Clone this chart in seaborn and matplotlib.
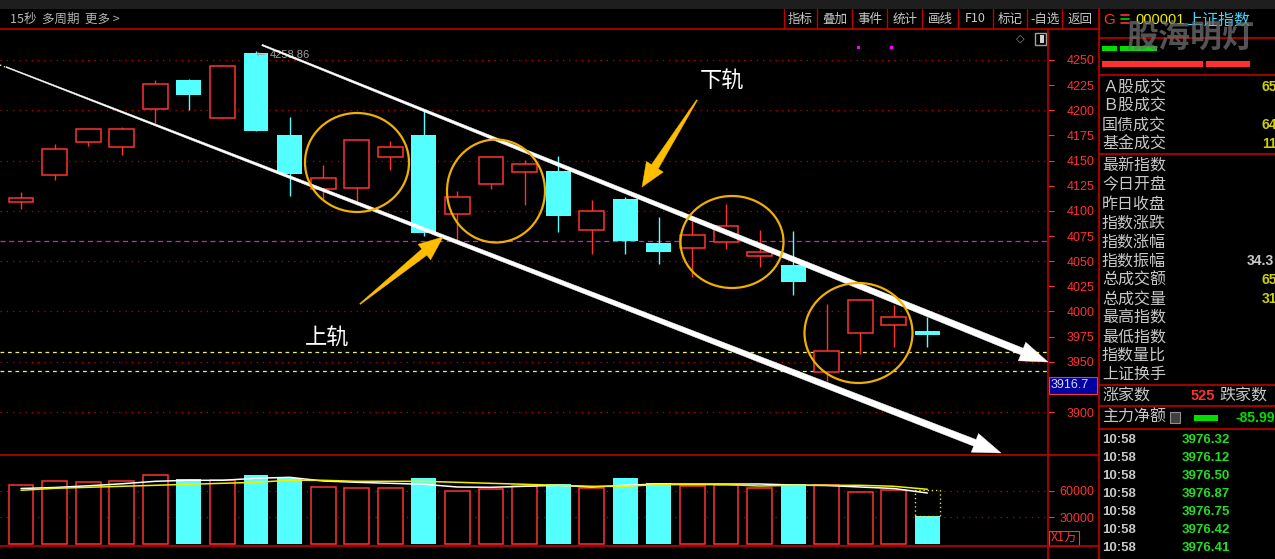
import numpy as np
import pandas as pd
import seaborn as sns
import matplotlib.pyplot as plt
from matplotlib.patches import Rectangle, Ellipse, Polygon

W, H = 1275, 559

# 15-second candles
opens = [4108.5, 4136.0, 4168.8, 4163.8, 4201.6, 4229.8, 4192.6, 4257.0, 4175.4, 4121.5,
         4123.0, 4153.3, 4175.4, 4096.6, 4127.0, 4138.3, 4139.6, 4080.7, 4111.8, 4068.4,
         4062.8, 4069.1, 4054.8, 4046.2, 3939.5, 3978.3, 3986.2, 3980.6]
highs = [4118.5, 4166.5, 4181.1, 4183.1, 4230.0, 4231.0, 4245.0, 4258.86, 4193.3, 4145.6,
         4170.2, 4169.5, 4200.3, 4119.8, 4153.3, 4150.6, 4154.6, 4110.8, 4114.1, 4093.9,
         4090.2, 4106.8, 4081.0, 4080.0, 4007.4, 4011.1, 4006.4, 3994.2]
lows = [4102.2, 4131.0, 4164.5, 4155.8, 4187.7, 4200.6, 4192.6, 4179.7, 4115.0, 4112.0,
        4109.8, 4140.6, 4075.3, 4069.4, 4121.5, 4105.8, 4079.3, 4057.4, 4057.4, 4047.5,
        4034.0, 4061.8, 4044.5, 4016.7, 3931.0, 3957.4, 3965.0, 3965.0]
closes = [4112.5, 4161.2, 4181.1, 4181.1, 4225.8, 4215.5, 4243.7, 4179.7, 4137.0, 4132.4,
          4170.2, 4163.2, 4078.3, 4113.5, 4153.3, 4146.3, 4095.2, 4099.6, 4070.3, 4059.4,
          4075.7, 4084.7, 4059.0, 4029.6, 3960.4, 4011.1, 3994.2, 3976.9]
volumes = [66430, 70940, 69470, 70940, 77710, 73200, 72070, 77710, 74660, 64170,
           63050, 63050, 74320, 59660, 61920, 65860, 67560, 63050, 74320, 68680,
           64960, 66430, 62710, 67560, 66430, 58530, 60790, 31470]
vol_forecast = 60450
ma_white = [62480, 63610, 65530, 67780, 70600, 71730, 71730, 73980, 75110, 70940,
            69470, 68340, 67220, 64170, 63830, 64960, 66090, 64170, 66090, 67560,
            67560, 67560, 67560, 66430, 65860, 64170, 62480, 57400]
ma_yellow = [60450, 62700, 63830, 64960, 66090, 67220, 68340, 69470, 71730, 71730,
             70600, 70600, 70600, 69470, 68340, 67220, 66090, 64960, 64960, 66880,
             66880, 66880, 65300, 66090, 66090, 66090, 64960, 61580]

price_ticks = [3900, 3950, 3975, 4000, 4025, 4050, 4075, 4100, 4125, 4150, 4175, 4200, 4225, 4250]
grid_prices = [3900, 3950, 4000, 4050, 4100, 4150, 4200, 4250]
prev_close = 4070.0
yellow_levels = [3959.4, 3940.5]
last_price = '3916.7'
high_label = '4258.86'
vol_ticks = [30000, 60000]

toolbar_left = '15秒  多周期  更多 >'
toolbar_buttons = ['指标', '叠加', '事件', '统计', '画线', 'F10', '标记', '-自选', '返回']
panel_labels = ['Ａ股成交', 'Ｂ股成交', '国债成交', '基金成交',
                '最新指数', '今日开盘', '昨日收盘', '指数涨跌', '指数涨幅', '指数振幅',
                '总成交额', '总成交量', '最高指数', '最低指数', '指数量比', '上证换手']
panel_values = ['65', '', '64', '11', '', '', '', '', '', '34.3', '65', '31', '', '', '', '']
tick_times = ['10:58'] * 7
tick_prices = ['3976.32', '3976.12', '3976.50', '3976.87', '3976.75', '3976.42', '3976.41']

RED = '#ff3232'
CYAN = '#54ffff'
LINE_RED = '#c00000'
ORANGE = '#ffbe00'
GRAY = '#c8c8c8'

sns.set_style('dark', {'axes.facecolor': 'black', 'figure.facecolor': 'black'})
plt.rcParams['font.family'] = ['Noto Sans CJK SC', 'DejaVu Sans']

df = pd.DataFrame({'o': opens, 'h': highs, 'l': lows, 'c': closes, 'v': volumes,
                   'ma1': ma_white, 'ma2': ma_yellow})
df['i'] = np.arange(len(df))
df['up'] = df['c'] >= df['o']
df['top'] = df[['o', 'c']].max(axis=1)
df['bot'] = df[['o', 'c']].min(axis=1)

# pixel geometry of the chart
X0, DX = 21.0, 33.57
BW = 0.74
xlim = (-X0 / DX, (1048 - X0) / DX)


def price_at(y):
    return 4250 - (y - 60) / 1.0058


def vol_at(y):
    return (543.9 - y) * 30000 / 26.6


fig = plt.figure(figsize=(W / 100, H / 100), dpi=100, facecolor='black')
ax = fig.add_axes([0, (H - 455) / H, 1048 / W, (455 - 29) / H])
ax2 = fig.add_axes([0, (H - 546) / H, 1048 / W, (546 - 455) / H])

for a in (ax, ax2):
    a.set_facecolor('black')
    for s in a.spines.values():
        s.set_visible(False)
    a.grid(False)
    a.set_xticks([])
    a.yaxis.tick_right()

# candles
up, dn = df[df['up']], df[~df['up']]
ax.vlines(dn['i'], dn['l'], dn['h'], color=CYAN, lw=1.0, zorder=3)
ax.bar(dn['i'], dn['top'] - dn['bot'], bottom=dn['bot'], width=BW, color=CYAN, lw=0, zorder=4)
ax.vlines(up['i'], up['l'], up['h'], color=RED, lw=1.0, zorder=3)
ax.bar(up['i'], up['top'] - up['bot'], bottom=up['bot'], width=BW, facecolor='black',
       edgecolor=RED, lw=1.1, zorder=4)

for p in grid_prices:
    ax.axhline(p, color=LINE_RED, lw=0.9, ls=(0, (1, 4)), zorder=1)
ax.axhline(prev_close, color='#d020d0', lw=0.9, ls=(0, (4, 3)), zorder=1)
for p in yellow_levels:
    ax.axhline(p, color='#f0f060', lw=0.9, ls=(0, (3, 3)), zorder=1)

ax.set_xlim(*xlim)
ax.set_ylim(price_at(455), price_at(29))
ax.set_yticks(price_ticks)
ax.set_yticklabels([str(t) for t in price_ticks])
ax.tick_params(axis='y', colors=RED, length=4.5, width=0.8, pad=9, labelsize=9)
for t in ax.get_yticklabels():
    t.set_fontfamily('Liberation Sans')

# volume
ax2.bar(dn['i'], dn['v'], width=BW, color=CYAN, lw=0, zorder=3)
ax2.bar(up['i'], up['v'], width=BW, facecolor='black', edgecolor=RED, lw=1.1, zorder=3)
last = df.iloc[-1]
ax2.add_patch(Rectangle((last['i'] - BW / 2, last['v']), BW, vol_forecast - last['v'],
                        fill=False, ec='#e0e040', lw=1.0, ls=(0, (1, 2)), zorder=4))
sns.lineplot(x=df['i'], y=df['ma1'], color='white', lw=1.1, ax=ax2, zorder=5, legend=False)
sns.lineplot(x=df['i'], y=df['ma2'], color='#f0f000', lw=1.1, ax=ax2, zorder=5, legend=False)
for v in vol_ticks:
    ax2.axhline(v, color=LINE_RED, lw=0.9, ls=(0, (1, 4)), zorder=1)
ax2.set_xlim(*xlim)
ax2.set_ylim(vol_at(546), vol_at(455))
ax2.set_xlabel('')
ax2.set_ylabel('')
ax2.set_yticks(vol_ticks)
ax2.set_yticklabels([str(v) for v in vol_ticks])
ax2.tick_params(axis='y', colors=RED, length=4.5, width=0.8, pad=3.6, labelsize=9)
for t in ax2.get_yticklabels():
    t.set_fontfamily('Liberation Sans')

# overlay in pixel coordinates for the frame, panel and hand-drawn marks
ov = fig.add_axes([0, 0, 1, 1], zorder=10)
ov.set_xlim(0, W)
ov.set_ylim(H, 0)
ov.axis('off')
ov.patch.set_alpha(0)

ov.add_patch(Rectangle((0, 0), W, 9, color='#1e1e1e', lw=0))
ov.plot([0, 1099], [29, 29], color=LINE_RED, lw=1.2)
ov.plot([1099, W], [38, 38], color=LINE_RED, lw=1.2)
ov.plot([0, 1099], [455, 455], color=LINE_RED, lw=1.2)
ov.plot([0, 1099], [546, 546], color=LINE_RED, lw=1.2)
ov.plot([1048, 1048], [29, H], color=LINE_RED, lw=1.2)
ov.plot([1099, 1099], [9, H], color=LINE_RED, lw=1.2)
for y in [75, 154, 385, 406, 429]:
    ov.plot([1099, W], [y, y], color=LINE_RED, lw=1.2)

# toolbar
ov.text(10, 19, toolbar_left, color='#b4b4b4', fontsize=9, va='center')
seps = [783.7, 817.3, 852.1, 887.4, 922.2, 958.2, 992.6, 1027.4, 1062.3, 1098.7]
for xs in seps:
    ov.plot([xs, xs], [9, 29], color=LINE_RED, lw=1.0)
for k, b in enumerate(toolbar_buttons):
    ov.text((seps[k] + seps[k + 1]) / 2, 19, b, color=GRAY, fontsize=9, ha='center', va='center')

# price label boxes
ov.add_patch(Rectangle((1049, 377), 48, 17, fc='#0000a0', ec=RED, lw=0.8))
ov.text(1051, 385.5, last_price, color='#d8d8ff', fontsize=9, va='center', family='Liberation Sans')
ov.add_patch(Rectangle((1049, 531), 30, 15, fc='black', ec=RED, lw=0.8))
ov.text(1051, 538.5, 'X1万', color=RED, fontsize=9, va='center')

# high marker and small icons
ov.text(256, 55, '←', color='#a0a0a0', fontsize=7, va='center')
ov.text(270, 55, high_label, color='#a0a0a0', fontsize=8, va='center', family='Liberation Sans')
for xm in [858, 891]:
    ov.add_patch(Rectangle((xm - 1.5, 45.5), 3, 3, color='#ff00ff', lw=0))
ov.text(1020, 39, '◇', color='#909090', fontsize=8, ha='center', va='center', family='DejaVu Sans')
ov.add_patch(Rectangle((1035, 33), 11, 12, fc='black', ec='#a0a0a0', lw=1.0))
ov.add_patch(Rectangle((1040, 35), 4, 8, fc='#d0d0d0', lw=0))


def taper_arrow(p0, p1, w0, w1, head_len, head_w, color):
    p0 = np.array(p0, float)
    p1 = np.array(p1, float)
    u = (p1 - p0) / np.hypot(*(p1 - p0))
    n = np.array([-u[1], u[0]])
    base = p1 - u * head_len
    pts = [p0 + n * w0 / 2, base + n * w1 / 2, base + n * head_w / 2, p1,
           base - n * head_w / 2, base - n * w1 / 2, p0 - n * w0 / 2]
    ov.add_patch(Polygon(pts, closed=True, fc=color, ec=color, lw=0.3, zorder=6))


# channel lines
taper_arrow((262, 45), (1048, 362), 1.5, 7, 28, 20, 'white')
taper_arrow((6, 67), (1001, 453), 1.0, 7, 28, 20, 'white')
ov.plot([0, 5], [65, 67], color='#f0f0a0', lw=1, ls=(0, (1, 2)))

# circles
for cx, cy, rx, ry in [(357, 162.5, 52, 49.5), (496, 191, 49, 51.5),
                       (732, 242, 51.5, 46), (858.5, 333, 54, 50)]:
    ov.add_patch(Ellipse((cx, cy), 2 * rx, 2 * ry, fill=False, ec='#f0b000', lw=1.6, zorder=7))

# callouts
taper_arrow((697, 100), (642, 187), 1.0, 8, 24, 20, ORANGE)
taper_arrow((360, 304), (443, 237), 1.0, 8, 24, 20, ORANGE)
ov.text(722, 80, '下轨', color='white', fontsize=16, ha='center', va='center', zorder=8)
ov.text(327, 337, '上轨', color='white', fontsize=16, ha='center', va='center', zorder=8)

# right panel header
ov.text(1103, 20, 'G', color=RED, fontsize=11, va='center', family='Liberation Sans')
for k, c in enumerate([RED, '#00d000', RED]):
    ov.plot([1121, 1129], [15 + 4 * k, 15 + 4 * k], color=c, lw=1.2)
ov.text(1135, 20, '000001', color='#f0f000', fontsize=10.5, va='center', family='Liberation Sans')
ov.text(1186, 20, '上证指数', color='#40d8ff', fontsize=11.5, va='center')
ov.add_patch(Rectangle((1102, 46), 15, 5, color='#00e000', lw=0))
ov.add_patch(Rectangle((1120, 46), 37, 5, color='#00e000', lw=0))
ov.add_patch(Rectangle((1102, 61), 101, 6, color='#ff3030', lw=0))
ov.add_patch(Rectangle((1206, 61), 44, 6, color='#ff3030', lw=0))
ov.text(1190, 38, '股海明灯', color='#707070', alpha=0.75, fontsize=23, fontweight='bold',
        ha='center', va='center', zorder=9)

row_y = [87, 105, 125, 144, 166, 185, 204, 223, 242, 261, 280, 299, 318, 337, 355, 374]
for y, lab, val in zip(row_y, panel_labels, panel_values):
    ov.text(1102, y, lab, color=GRAY, fontsize=11.5, va='center')
    if val:
        vx = 1247 if '.' in val else 1262
        col = GRAY if '.' in val else '#d0d000'
        ov.text(vx, y, val, color=col, fontsize=10, va='center', family='Liberation Sans',
                fontweight='bold')

ov.text(1102, 396, '涨家数', color=GRAY, fontsize=11.5, va='center')
ov.text(1191, 396, '525', color=RED, fontsize=10.5, va='center', family='Liberation Sans',
        fontweight='bold')
ov.text(1219, 396, '跌家数', color=GRAY, fontsize=11.5, va='center')
ov.text(1102, 417.5, '主力净额', color=GRAY, fontsize=11.5, va='center')
ov.add_patch(Rectangle((1170, 412), 10, 11, fc='#404040', ec='#909090', lw=0.8))
ov.add_patch(Rectangle((1194, 415), 24, 5.5, color='#00e000', lw=0))
ov.text(1235, 417.5, '-85.99', color='#00e000', fontsize=10, va='center', family='Liberation Sans',
        fontweight='bold')

for k, (tm, pr) in enumerate(zip(tick_times, tick_prices)):
    y = 440 + 18 * k
    ov.text(1102, y, tm, color=GRAY, fontsize=9.5, va='center', family='Liberation Sans',
            fontweight='bold')
    ov.text(1182, y, pr, color='#20e020', fontsize=9.5, va='center', family='Liberation Sans',
            fontweight='bold')

fig.savefig('out.png', dpi=100, facecolor='black')
